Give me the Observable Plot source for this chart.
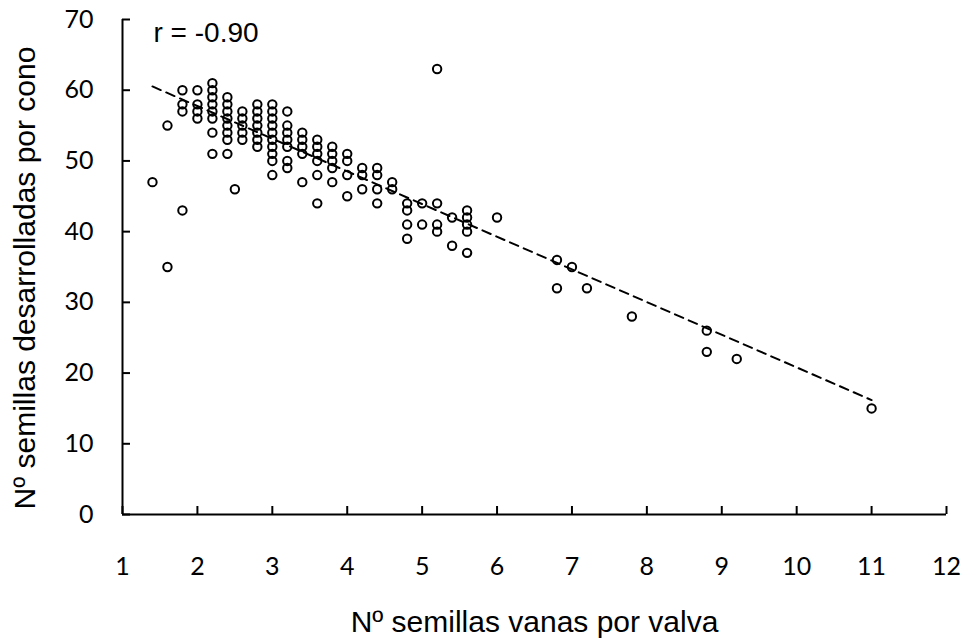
<!DOCTYPE html>
<html>
<head>
<meta charset="utf-8">
<script src="https://cdn.jsdelivr.net/npm/d3@7"></script>
<script src="https://cdn.jsdelivr.net/npm/@observablehq/plot@0.6"></script>
<style>
  html, body { margin: 0; padding: 0; background: #fff; }
  #chart svg { display: block; }
</style>
</head>
<body>
<div id="chart"></div>
<script>
// Empty seeds per valve (x) and developed seeds per cone (y), one entry per cone
const vanas = [
  1.4,
  1.6, 1.6,
  1.8, 1.8, 1.8, 1.8,
  2.0, 2.0, 2.0, 2.0,
  2.2, 2.2, 2.2, 2.2, 2.2, 2.2, 2.2, 2.2,
  2.4, 2.4, 2.4, 2.4, 2.4, 2.4, 2.4, 2.4,
  2.5,
  2.6, 2.6, 2.6, 2.6, 2.6,
  2.8, 2.8, 2.8, 2.8, 2.8, 2.8, 2.8,
  3.0, 3.0, 3.0, 3.0, 3.0, 3.0, 3.0, 3.0, 3.0, 3.0,
  3.2, 3.2, 3.2, 3.2, 3.2, 3.2, 3.2,
  3.4, 3.4, 3.4, 3.4, 3.4,
  3.6, 3.6, 3.6, 3.6, 3.6, 3.6,
  3.8, 3.8, 3.8, 3.8, 3.8,
  4.0, 4.0, 4.0, 4.0,
  4.2, 4.2, 4.2,
  4.4, 4.4, 4.4, 4.4,
  4.6, 4.6,
  4.8, 4.8, 4.8, 4.8,
  5.0, 5.0,
  5.2, 5.2, 5.2, 5.2,
  5.4, 5.4,
  5.6, 5.6, 5.6, 5.6, 5.6,
  6.0,
  6.8, 6.8,
  7.0,
  7.2,
  7.8,
  8.8, 8.8,
  9.2,
  11.0
];
const desarrolladas = [
  47,
  55, 35,
  60, 58, 57, 43,
  60, 58, 57, 56,
  61, 60, 59, 58, 57, 56, 54, 51,
  59, 58, 57, 56, 55, 54, 53, 51,
  46,
  57, 56, 55, 54, 53,
  58, 57, 56, 55, 54, 53, 52,
  58, 57, 56, 55, 54, 53, 52, 51, 50, 48,
  57, 55, 54, 53, 52, 50, 49,
  54, 53, 52, 51, 47,
  53, 52, 51, 50, 48, 44,
  52, 51, 50, 49, 47,
  51, 50, 48, 45,
  49, 48, 46,
  49, 48, 46, 44,
  47, 46,
  44, 43, 41, 39,
  44, 41,
  63, 44, 41, 40,
  42, 38,
  43, 42, 41, 40, 37,
  42,
  36, 32,
  35,
  32,
  28,
  26, 23,
  22,
  15
];

// Fitted trend line: y = intercept + slope * x, drawn over the observed x range
const fitIntercept = 67.0;
const fitSlope = -4.62;
const fitRange = [1.4, 11.0];

const xTicks = [1, 2, 3, 4, 5, 6, 7, 8, 9, 10, 11, 12];
const yTicks = [0, 10, 20, 30, 40, 50, 60, 70];

const rLabel = "r = -0.90";
const xTitle = "Nº semillas vanas por valva";
const yTitle = "Nº semillas desarrolladas por cono";

const cones = vanas.map((x, i) => ({x, y: desarrolladas[i]}));
const trend = fitRange.map(x => ({x, y: fitIntercept + fitSlope * x}));

const W = 968, H = 643;
const mL = 122, mR = 22, mT = 19, mB = 129;
const innerW = W - mL - mR, innerH = H - mT - mB;
const tickLen = 8;

const chart = Plot.plot({
  width: W,
  height: H,
  marginLeft: mL,
  marginRight: mR,
  marginTop: mT,
  marginBottom: mB,
  style: {background: "#fff", color: "#000", overflow: "visible"},
  x: {domain: [1, 12]},
  y: {domain: [0, 70]},
  marks: [
    // tick labels
    Plot.axisX({ticks: xTicks, tickSize: 0, tickPadding: 43, fontSize: 25, fontFamily: "Lato", label: null}),
    Plot.axisY({ticks: yTicks, tickSize: 0, tickPadding: 29, fontSize: 25, fontFamily: "Lato", label: null}),
    // inward tick marks
    Plot.tickX(xTicks, {x: d => d, insetTop: innerH - tickLen, stroke: "#000", strokeWidth: 2}),
    Plot.tickY(yTicks, {y: d => d, insetRight: innerW - tickLen, stroke: "#000", strokeWidth: 2}),
    // axis lines
    Plot.ruleX([1], {stroke: "#000", strokeWidth: 2}),
    Plot.ruleY([0], {stroke: "#000", strokeWidth: 2}),
    // trend line
    Plot.line(trend, {x: "x", y: "y", stroke: "#000", strokeWidth: 2, strokeDasharray: "9,6"}),
    // observations
    Plot.dot(cones, {x: "x", y: "y", r: 4.2, stroke: "#000", strokeWidth: 2, fill: "none"}),
    // correlation coefficient
    Plot.text([rLabel], {frameAnchor: "top-left", dx: 31, dy: 14, textAnchor: "start", lineAnchor: "middle",
      fontSize: 28, fontFamily: "Liberation Sans", fill: "#000"}),
    // axis titles
    Plot.text([xTitle], {frameAnchor: "bottom", dy: 108, textAnchor: "middle", lineAnchor: "middle",
      fontSize: 30, fontFamily: "Liberation Sans", fill: "#000"}),
    Plot.text([yTitle], {frameAnchor: "left", rotate: -90, dx: -97, dy: 11, textAnchor: "middle", lineAnchor: "middle",
      fontSize: 30, fontFamily: "Liberation Sans", fill: "#000"})
  ]
});

document.getElementById("chart").appendChild(chart);
</script>
</body>
</html>
